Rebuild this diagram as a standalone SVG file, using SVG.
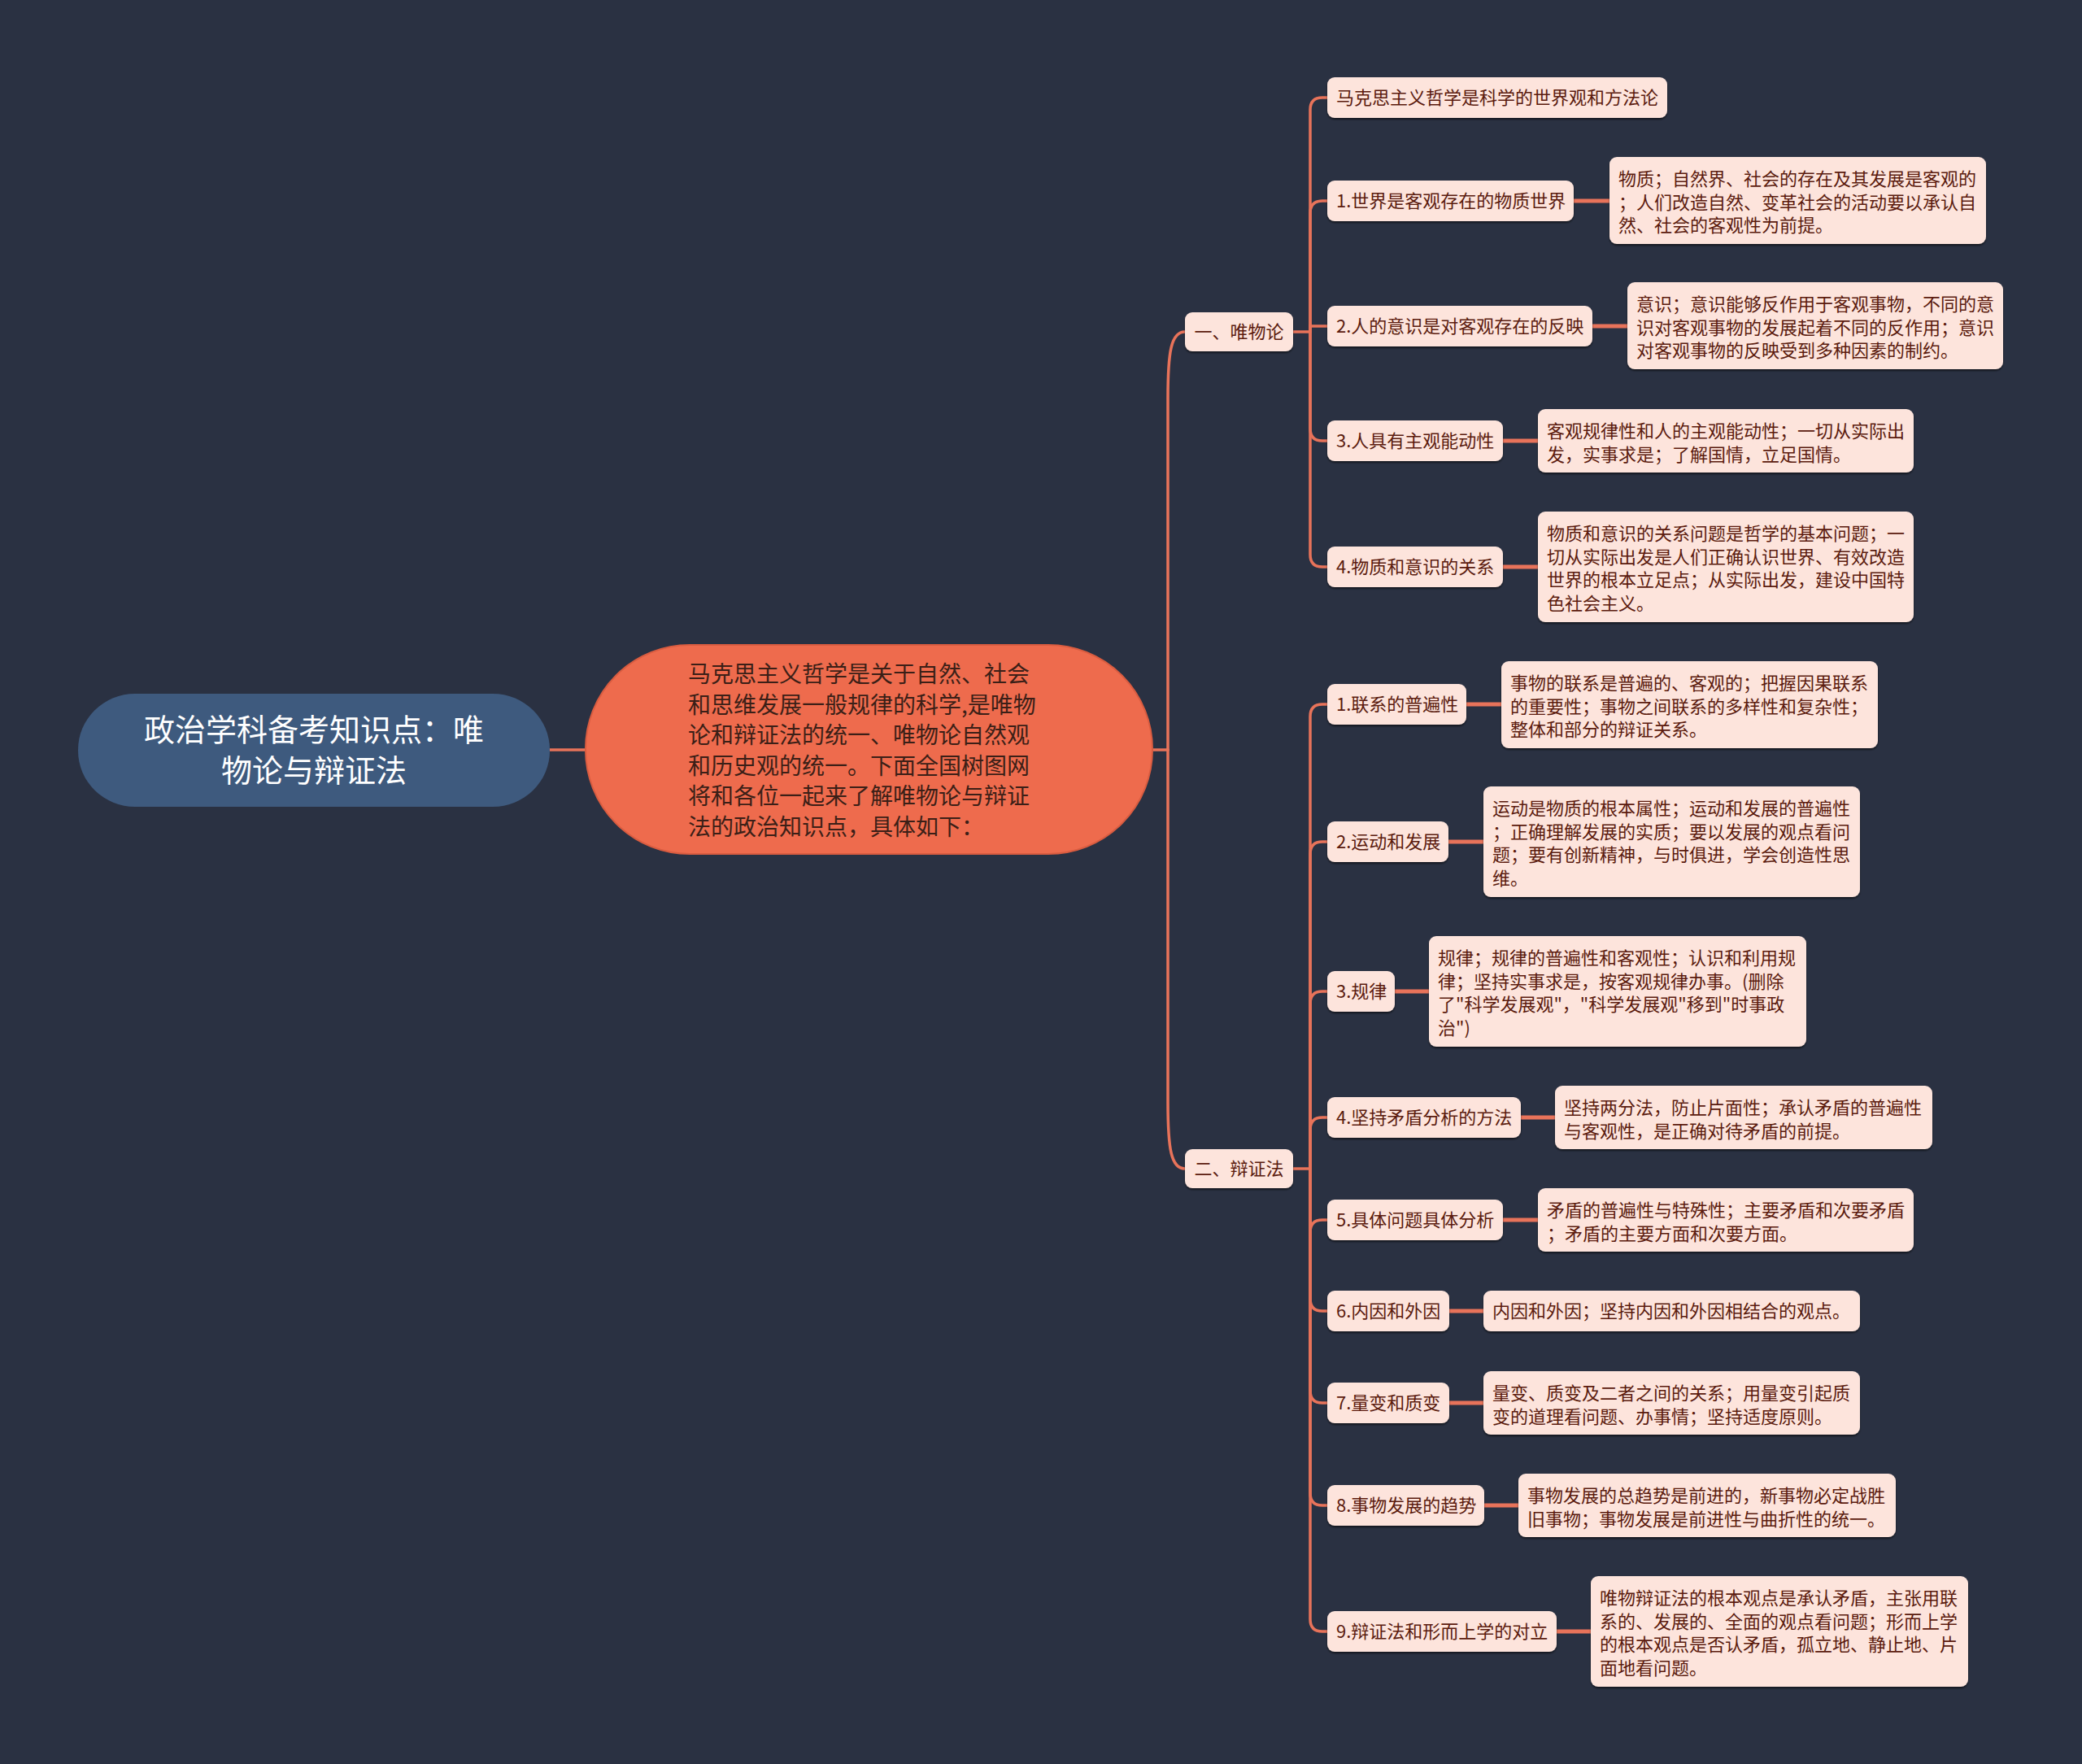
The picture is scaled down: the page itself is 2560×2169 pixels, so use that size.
<svg xmlns="http://www.w3.org/2000/svg" width="2560" height="2169" viewBox="0 0 2560 2169">
<style>
.bg{fill:#2a3142}
.t{font-family:"Noto Sans CJK SC","Noto Sans",sans-serif}
.box{fill:#fde4dc;filter:url(#sh)}
.bt{font-size:22px;fill:#5b1b0e}
.ln{fill:none;stroke:#e8735a;stroke-width:3.5;stroke-linecap:round}
.ln2{fill:none;stroke:#e8735a;stroke-width:5}
</style>
<defs>
<filter id="sh" x="-5%" y="-10%" width="110%" height="130%">
<feDropShadow dx="0" dy="2" stdDeviation="1.2" flood-color="#000" flood-opacity="0.55"/>
</filter>
</defs>
<rect class="bg" x="0" y="0" width="2560" height="2169"/>

<g id="connectors">
<path class="ln" d="M676,922 H721"/>
<path class="ln" d="M1415,922 H1436"/>
<path class="ln" d="M1436,922 V490 C1436,432 1440,408 1457,408"/>
<path class="ln" d="M1436,922 V1355 C1436,1413 1440,1437 1457,1437"/>
<path class="ln" d="M1590,408 H1611 V135 Q1611,120 1626,120 H1632"/>
<path class="ln" d="M1611,408 V262 Q1611,247 1626,247 H1632"/>
<path class="ln" d="M1611,408 V401 H1632"/>
<path class="ln" d="M1611,408 V527 Q1611,542 1626,542 H1632"/>
<path class="ln" d="M1611,408 V682 Q1611,697 1626,697 H1632"/>
<path class="ln" d="M1590,1437 H1611 V881 Q1611,866 1626,866 H1632"/>
<path class="ln" d="M1611,1437 V1050 Q1611,1035 1626,1035 H1632"/>
<path class="ln" d="M1611,1437 V1234 Q1611,1219 1626,1219 H1632"/>
<path class="ln" d="M1611,1437 V1389 Q1611,1374 1626,1374 H1632"/>
<path class="ln" d="M1611,1437 V1515 Q1611,1500 1626,1500 H1632"/>
<path class="ln" d="M1611,1437 V1597 Q1611,1612 1626,1612 H1632"/>
<path class="ln" d="M1611,1437 V1710 Q1611,1725 1626,1725 H1632"/>
<path class="ln" d="M1611,1437 V1836 Q1611,1851 1626,1851 H1632"/>
<path class="ln" d="M1611,1437 V1991 Q1611,2006 1626,2006 H1632"/>
<path class="ln2" d="M1935,247 H1979"/>
<path class="ln2" d="M1958,401 H2001"/>
<path class="ln2" d="M1848,542 H1891"/>
<path class="ln2" d="M1848,697 H1891"/>
<path class="ln2" d="M1803,866 H1846"/>
<path class="ln2" d="M1781,1035 H1824"/>
<path class="ln2" d="M1715,1219 H1757"/>
<path class="ln2" d="M1870,1374 H1912"/>
<path class="ln2" d="M1848,1500 H1891"/>
<path class="ln2" d="M1782,1612 H1824"/>
<path class="ln2" d="M1782,1725 H1824"/>
<path class="ln2" d="M1825,1851 H1867"/>
<path class="ln2" d="M1914,2006 H1956"/>
</g>

<g id="root">
<rect x="96" y="853" width="580" height="139" rx="70" ry="69" fill="#3e5a7e"/>
<text class="t" font-size="38" fill="#ffffff" text-anchor="middle"><tspan x="386" y="911">政治学科备考知识点：唯</tspan><tspan x="386" y="961">物论与辩证法</tspan></text>
</g>

<g id="center">
<rect x="720" y="793" width="697" height="257" rx="128" ry="128" fill="#ee6b4d" stroke="#d95c40" stroke-width="2"/>
<text class="t" font-size="28" fill="#3b1f17"><tspan x="846" y="839">马克思主义哲学是关于自然、社会</tspan><tspan x="846" y="876.6">和思维发展一般规律的科学,是唯物</tspan><tspan x="846" y="914.2">论和辩证法的统一、唯物论自然观</tspan><tspan x="846" y="951.8">和历史观的统一。下面全国树图网</tspan><tspan x="846" y="989.4">将和各位一起来了解唯物论与辩证</tspan><tspan x="846" y="1027">法的政治知识点，具体如下：</tspan></text>
</g>

<g id="l1-weiwu">
<rect class="box" x="1457" y="384" width="133" height="48" rx="9"/>
<text class="t bt" x="1523.5" y="416" text-anchor="middle">一、唯物论</text>
</g>
<g id="l1-bianzheng">
<rect class="box" x="1457" y="1413" width="133" height="48" rx="9"/>
<text class="t bt" x="1523.5" y="1445" text-anchor="middle">二、辩证法</text>
</g>

<g id="a0">
<rect class="box" x="1632" y="95" width="418" height="50" rx="9"/>
<text class="t bt" x="1643" y="128">马克思主义哲学是科学的世界观和方法论</text>
</g>
<g id="a1">
<rect class="box" x="1632" y="222" width="303" height="50" rx="9"/>
<text class="t bt" x="1643" y="255">1.世界是客观存在的物质世界</text>
</g>
<g id="a1d">
<rect class="box" x="1979" y="193" width="463" height="107" rx="9"/>
<text class="t bt"><tspan x="1990" y="228">物质；自然界、社会的存在及其发展是客观的</tspan><tspan x="1990" y="256.5">；人们改造自然、变革社会的活动要以承认自</tspan><tspan x="1990" y="285">然、社会的客观性为前提。</tspan></text>
</g>
<g id="a2">
<rect class="box" x="1632" y="376" width="326" height="50" rx="9"/>
<text class="t bt" x="1643" y="409">2.人的意识是对客观存在的反映</text>
</g>
<g id="a2d">
<rect class="box" x="2001" y="347" width="462" height="107" rx="9"/>
<text class="t bt"><tspan x="2012" y="382">意识；意识能够反作用于客观事物，不同的意</tspan><tspan x="2012" y="410.5">识对客观事物的发展起着不同的反作用；意识</tspan><tspan x="2012" y="439">对客观事物的反映受到多种因素的制约。</tspan></text>
</g>
<g id="a3">
<rect class="box" x="1632" y="517" width="216" height="50" rx="9"/>
<text class="t bt" x="1643" y="550">3.人具有主观能动性</text>
</g>
<g id="a3d">
<rect class="box" x="1891" y="503" width="462" height="78" rx="9"/>
<text class="t bt"><tspan x="1902" y="538">客观规律性和人的主观能动性；一切从实际出</tspan><tspan x="1902" y="566.5">发，实事求是；了解国情，立足国情。</tspan></text>
</g>
<g id="a4">
<rect class="box" x="1632" y="672" width="216" height="50" rx="9"/>
<text class="t bt" x="1643" y="705">4.物质和意识的关系</text>
</g>
<g id="a4d">
<rect class="box" x="1891" y="629" width="462" height="136" rx="9"/>
<text class="t bt"><tspan x="1902" y="664">物质和意识的关系问题是哲学的基本问题；一</tspan><tspan x="1902" y="692.5">切从实际出发是人们正确认识世界、有效改造</tspan><tspan x="1902" y="721">世界的根本立足点；从实际出发，建设中国特</tspan><tspan x="1902" y="749.5">色社会主义。</tspan></text>
</g>

<g id="b1">
<rect class="box" x="1632" y="841" width="171" height="50" rx="9"/>
<text class="t bt" x="1643" y="874">1.联系的普遍性</text>
</g>
<g id="b1d">
<rect class="box" x="1846" y="813" width="463" height="107" rx="9"/>
<text class="t bt"><tspan x="1857" y="848">事物的联系是普遍的、客观的；把握因果联系</tspan><tspan x="1857" y="876.5">的重要性；事物之间联系的多样性和复杂性；</tspan><tspan x="1857" y="905">整体和部分的辩证关系。</tspan></text>
</g>
<g id="b2">
<rect class="box" x="1632" y="1010" width="149" height="50" rx="9"/>
<text class="t bt" x="1643" y="1043">2.运动和发展</text>
</g>
<g id="b2d">
<rect class="box" x="1824" y="967" width="463" height="136" rx="9"/>
<text class="t bt"><tspan x="1835" y="1002">运动是物质的根本属性；运动和发展的普遍性</tspan><tspan x="1835" y="1030.5">；正确理解发展的实质；要以发展的观点看问</tspan><tspan x="1835" y="1059">题；要有创新精神，与时俱进，学会创造性思</tspan><tspan x="1835" y="1087.5">维。</tspan></text>
</g>
<g id="b3">
<rect class="box" x="1632" y="1194" width="83" height="50" rx="9"/>
<text class="t bt" x="1643" y="1227">3.规律</text>
</g>
<g id="b3d">
<rect class="box" x="1757" y="1151" width="464" height="136" rx="9"/>
<text class="t bt"><tspan x="1768" y="1186">规律；规律的普遍性和客观性；认识和利用规</tspan><tspan x="1768" y="1214.5">律；坚持实事求是，按客观规律办事。(删除</tspan><tspan x="1768" y="1243">了"科学发展观"，"科学发展观"移到"时事政</tspan><tspan x="1768" y="1271.5">治")</tspan></text>
</g>
<g id="b4">
<rect class="box" x="1632" y="1349" width="238" height="50" rx="9"/>
<text class="t bt" x="1643" y="1382">4.坚持矛盾分析的方法</text>
</g>
<g id="b4d">
<rect class="box" x="1912" y="1335" width="464" height="78" rx="9"/>
<text class="t bt"><tspan x="1923" y="1370">坚持两分法，防止片面性；承认矛盾的普遍性</tspan><tspan x="1923" y="1398.5">与客观性，是正确对待矛盾的前提。</tspan></text>
</g>
<g id="b5">
<rect class="box" x="1632" y="1475" width="216" height="50" rx="9"/>
<text class="t bt" x="1643" y="1508">5.具体问题具体分析</text>
</g>
<g id="b5d">
<rect class="box" x="1891" y="1461" width="462" height="78" rx="9"/>
<text class="t bt"><tspan x="1902" y="1496">矛盾的普遍性与特殊性；主要矛盾和次要矛盾</tspan><tspan x="1902" y="1524.5">；矛盾的主要方面和次要方面。</tspan></text>
</g>
<g id="b6">
<rect class="box" x="1632" y="1587" width="150" height="50" rx="9"/>
<text class="t bt" x="1643" y="1620">6.内因和外因</text>
</g>
<g id="b6d">
<rect class="box" x="1824" y="1587" width="463" height="50" rx="9"/>
<text class="t bt" x="1835" y="1620">内因和外因；坚持内因和外因相结合的观点。</text>
</g>
<g id="b7">
<rect class="box" x="1632" y="1700" width="150" height="50" rx="9"/>
<text class="t bt" x="1643" y="1733">7.量变和质变</text>
</g>
<g id="b7d">
<rect class="box" x="1824" y="1686" width="463" height="78" rx="9"/>
<text class="t bt"><tspan x="1835" y="1721">量变、质变及二者之间的关系；用量变引起质</tspan><tspan x="1835" y="1749.5">变的道理看问题、办事情；坚持适度原则。</tspan></text>
</g>
<g id="b8">
<rect class="box" x="1632" y="1826" width="193" height="50" rx="9"/>
<text class="t bt" x="1643" y="1859">8.事物发展的趋势</text>
</g>
<g id="b8d">
<rect class="box" x="1867" y="1812" width="464" height="78" rx="9"/>
<text class="t bt"><tspan x="1878" y="1847">事物发展的总趋势是前进的，新事物必定战胜</tspan><tspan x="1878" y="1875.5">旧事物；事物发展是前进性与曲折性的统一。</tspan></text>
</g>
<g id="b9">
<rect class="box" x="1632" y="1981" width="282" height="50" rx="9"/>
<text class="t bt" x="1643" y="2014">9.辩证法和形而上学的对立</text>
</g>
<g id="b9d">
<rect class="box" x="1956" y="1938" width="464" height="136" rx="9"/>
<text class="t bt"><tspan x="1967" y="1973">唯物辩证法的根本观点是承认矛盾，主张用联</tspan><tspan x="1967" y="2001.5">系的、发展的、全面的观点看问题；形而上学</tspan><tspan x="1967" y="2030">的根本观点是否认矛盾，孤立地、静止地、片</tspan><tspan x="1967" y="2058.5">面地看问题。</tspan></text>
</g>
</svg>
